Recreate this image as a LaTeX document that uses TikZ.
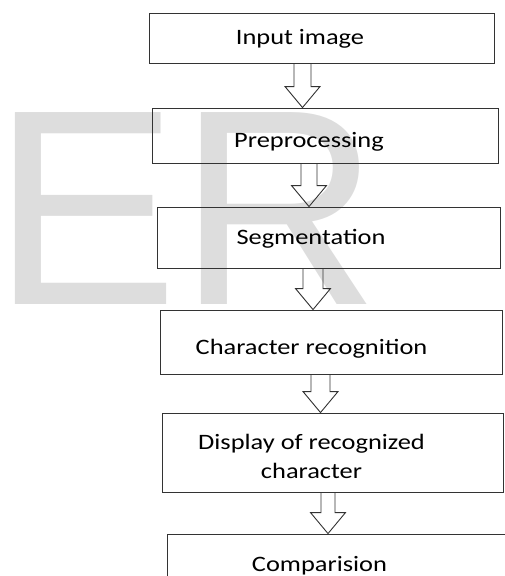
\documentclass[tikz,border=0pt]{standalone}
\usepackage{fontspec}
\setmainfont{Carlito}
\newfontfamily\wmfont{Liberation Sans}
\usetikzlibrary{calc}
\definecolor{wmgray}{HTML}{DDDDDD}
\definecolor{edge}{HTML}{333333}
\newcommand{\stretchtxt}[1]{\scalebox{1.2}[1]{#1}}
\tikzset{
  flowbox/.style={draw=edge, line width=0.9pt, inner sep=0pt},
  flowtext/.style={inner sep=0pt, anchor=base, text=black,
    font=\fontsize{22}{29}\selectfont},
  blockarrow/.style={draw=edge, line width=0.9pt, line join=miter},
}
% hollow arrow: from node, to node, axis x, half shaft width
\newcommand{\flowarrow}[4]{%
  \draw[blockarrow] let \p1=(#1.south), \p2=(#2.north) in
    (#3pt-#4pt,\y1) -- (#3pt-#4pt,\y2+21pt) -- (#3pt-17.5pt,\y2+21pt)
    -- (#3pt,\y2) -- (#3pt+17.5pt,\y2+21pt) -- (#3pt+#4pt,\y2+21pt)
    -- (#3pt+#4pt,\y1);}
\begin{document}
\begin{tikzpicture}[x=1pt, y=-1pt]
\useasboundingbox (0,0) rectangle (505,576);
\clip (0,0) rectangle (505,576);
% Watermark
\node[anchor=base west, inner sep=0pt, text=wmgray,
  font=\wmfont\fontsize{279}{279}\selectfont] (mark) at (-8,304) {ER};
% Boxes
\node[flowbox, minimum width=345pt, minimum height=50pt] (input) at (321.5,38) {};
\node[flowbox, minimum width=346pt, minimum height=55pt] (prep) at (325,135.5) {};
\node[flowbox, minimum width=343pt, minimum height=61pt] (seg) at (328.5,237.5) {};
\node[flowbox, minimum width=342pt, minimum height=64pt] (charrec) at (331,342) {};
\node[flowbox, minimum width=341pt, minimum height=79pt] (display) at (332.5,452.5) {};
\node[flowbox, minimum width=345pt, minimum height=60pt] (compare) at (339.5,564) {};
% Texts
\node[flowtext] (inputtxt) at (300,44) {\stretchtxt{Input image}};
\node[flowtext] (preptxt) at (309,147) {\stretchtxt{Preprocessing}};
\node[flowtext] (segtxt) at (311,244) {\stretchtxt{Segmentation}};
\node[flowtext] (charrectxt) at (311.5,354) {\stretchtxt{Character recognition}};
\node[flowtext] (displaytxt) at (311.5,463)
  {\stretchtxt{\begin{tabular}{@{}c@{}}Display of recognized\\character\end{tabular}}};
\node[flowtext] (comparetxt) at (319.5,571) {\stretchtxt{Comparision}};
% Arrows
\flowarrow{input}{prep}{302.5}{8.5}
\flowarrow{prep}{seg}{309}{8}
\flowarrow{seg}{charrec}{313}{10}
\flowarrow{charrec}{display}{320.5}{9.5}
\flowarrow{display}{compare}{328}{7}
\end{tikzpicture}
\end{document}
